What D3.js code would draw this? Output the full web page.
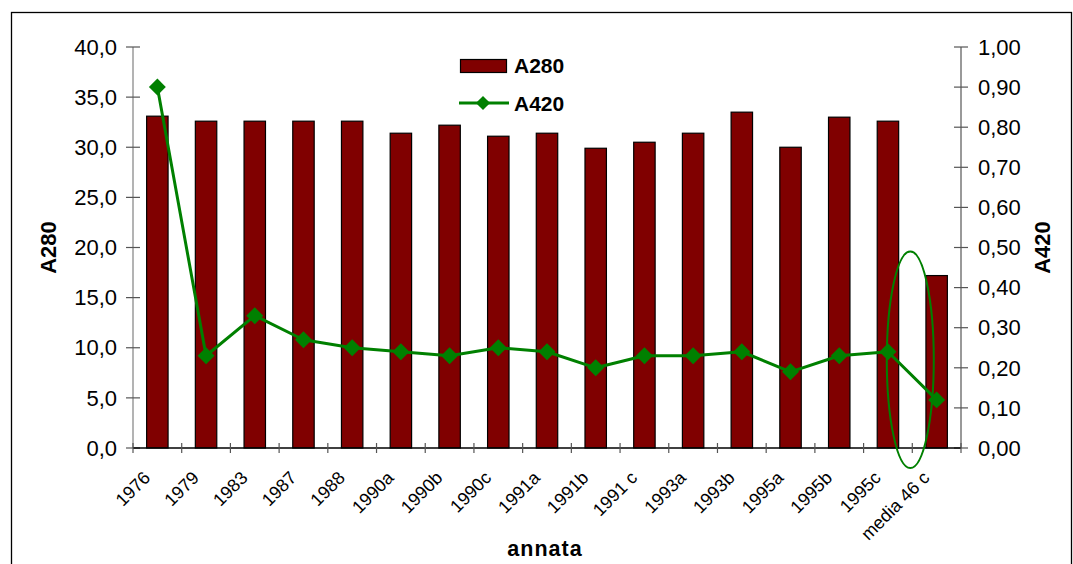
<!DOCTYPE html>
<html>
<head>
<meta charset="utf-8">
<script src="https://cdn.jsdelivr.net/npm/d3@7/dist/d3.min.js"></script>
<style>
  html, body { margin: 0; padding: 0; background: #fff; }
  svg { display: block; font-family: Arial, "Liberation Sans", sans-serif; }
</style>
</head>
<body>
<svg id="chart" width="1073" height="564"></svg>
<script>
// Sample vintages (annata)
const categories = ["1976", "1979", "1983", "1987", "1988", "1990a", "1990b", "1990c",
  "1991a", "1991b", "1991 c", "1993a", "1993b", "1995a", "1995b", "1995c", "media 46 c"];
// Absorbance at 280 nm (left axis, bars)
const a280 = [33.1, 32.6, 32.6, 32.6, 32.6, 31.4, 32.2, 31.1, 31.4, 29.9, 30.5, 31.4, 33.5, 30.0, 33.0, 32.6, 17.2];
// Absorbance at 420 nm (right axis, line)
const a420 = [0.90, 0.23, 0.33, 0.27, 0.25, 0.24, 0.23, 0.25, 0.24, 0.20, 0.23, 0.23, 0.24, 0.19, 0.23, 0.24, 0.12];
const leftTicks = [0, 5, 10, 15, 20, 25, 30, 35, 40];
const rightTicks = [0, 0.1, 0.2, 0.3, 0.4, 0.5, 0.6, 0.7, 0.8, 0.9, 1.0];

const svg = d3.select("#chart");
const plot = { left: 133, right: 961, top: 47, bottom: 448 };

const x = d3.scaleBand().domain(categories).range([plot.left, plot.right]);
const yL = d3.scaleLinear().domain([0, 40]).range([plot.bottom, plot.top]);
const yR = d3.scaleLinear().domain([0, 1]).range([plot.bottom, plot.top]);

const fmt1 = d => d.toFixed(1).replace(".", ",");
const fmt2 = d => d.toFixed(2).replace(".", ",");

// outer frame
svg.append("rect").attr("x", 11.5).attr("y", 12.5).attr("width", 1060).attr("height", 600)
  .attr("fill", "none").attr("stroke", "#000").attr("stroke-width", 1.3);

// bars
const barW = x.bandwidth() * 0.44;
svg.append("g").selectAll("rect").data(categories).join("rect")
  .attr("x", (d) => x(d) + x.bandwidth() / 2 - barW / 2)
  .attr("width", barW)
  .attr("y", (d, i) => yL(a280[i]))
  .attr("height", (d, i) => yL(0) - yL(a280[i]))
  .attr("fill", "#800000").attr("stroke", "#000").attr("stroke-width", 1.2);

// left axis
const gL = svg.append("g");
gL.append("line").attr("x1", plot.left).attr("x2", plot.left).attr("y1", yL(40)).attr("y2", yL(0))
  .attr("stroke", "#808080").attr("stroke-width", 1.2);
gL.selectAll("line.t").data(leftTicks).join("line").attr("class", "t")
  .attr("x1", plot.left - 7).attr("x2", plot.left + 7)
  .attr("y1", d => yL(d)).attr("y2", d => yL(d)).attr("stroke", "#555").attr("stroke-width", 1.2);
gL.selectAll("text").data(leftTicks).join("text")
  .attr("x", 117).attr("y", d => yL(d)).attr("dy", "0.35em").attr("text-anchor", "end")
  .attr("font-size", 22).attr("fill", "#000").text(fmt1);

// right axis
const gR = svg.append("g");
gR.append("line").attr("x1", plot.right).attr("x2", plot.right).attr("y1", yR(1)).attr("y2", yR(0))
  .attr("stroke", "#555").attr("stroke-width", 1.2);
gR.selectAll("line.t").data(rightTicks).join("line").attr("class", "t")
  .attr("x1", plot.right - 7).attr("x2", plot.right + 7)
  .attr("y1", d => yR(d)).attr("y2", d => yR(d)).attr("stroke", "#555").attr("stroke-width", 1.2);
gR.selectAll("text").data(rightTicks).join("text")
  .attr("x", 978).attr("y", d => yR(d)).attr("dy", "0.35em").attr("text-anchor", "start")
  .attr("font-size", 22).attr("fill", "#000").text(fmt2);

// x axis
const gX = svg.append("g");
gX.append("line").attr("x1", plot.left).attr("x2", plot.right).attr("y1", plot.bottom).attr("y2", plot.bottom)
  .attr("stroke", "#000").attr("stroke-width", 1.3);
const xTicks = categories.map(d => x(d)).concat([plot.right]);
gX.selectAll("line.t").data(xTicks).join("line").attr("class", "t")
  .attr("x1", d => d).attr("x2", d => d).attr("y1", plot.bottom - 5).attr("y2", plot.bottom + 5)
  .attr("stroke", "#555").attr("stroke-width", 1.2);
gX.selectAll("text").data(categories).join("text")
  .attr("transform", d => `translate(${x(d) + x.bandwidth() / 2 - 6},${plot.bottom + 31}) rotate(-45)`)
  .attr("text-anchor", "end").attr("font-size", 18).attr("fill", "#000").text(d => d);

// A420 line + diamond markers
const line = d3.line().x((d, i) => x(categories[i]) + x.bandwidth() / 2).y(d => yR(d));
svg.append("path").datum(a420).attr("d", line)
  .attr("fill", "none").attr("stroke", "#008000").attr("stroke-width", 3).attr("stroke-linejoin", "round");
svg.append("g").selectAll("path").data(a420).join("path")
  .attr("transform", (d, i) => `translate(${x(categories[i]) + x.bandwidth() / 2},${yR(d)}) rotate(45)`)
  .attr("d", d3.symbol().type(d3.symbolSquare).size(144))
  .attr("fill", "#008000");

// highlight ellipse around the average column
const ex = x("media 46 c") - 2;
svg.append("ellipse")
  .attr("cx", ex).attr("cy", (yR(0.49) + yR(-0.05)) / 2)
  .attr("rx", 23.5).attr("ry", (yR(-0.05) - yR(0.49)) / 2)
  .attr("fill", "none").attr("stroke", "#008000").attr("stroke-width", 2);

// axis titles
svg.append("text").attr("transform", `translate(56,${(plot.top + plot.bottom) / 2}) rotate(-90)`)
  .attr("text-anchor", "middle").attr("font-size", 22).attr("font-weight", "bold").text("A280");
svg.append("text").attr("transform", `translate(1050,${(plot.top + plot.bottom) / 2}) rotate(-90)`)
  .attr("text-anchor", "middle").attr("font-size", 22).attr("font-weight", "bold").text("A420");
svg.append("text").attr("x", 545).attr("y", 556).attr("text-anchor", "middle")
  .attr("font-size", 21.5).attr("font-weight", "bold").attr("letter-spacing", 1).text("annata");

// legend
const lg = svg.append("g");
lg.append("rect").attr("x", 460.5).attr("y", 59.5).attr("width", 46).attr("height", 13)
  .attr("fill", "#800000").attr("stroke", "#000").attr("stroke-width", 1.2);
lg.append("text").attr("x", 514).attr("y", 73).attr("font-size", 21).attr("font-weight", "bold").text("A280");
lg.append("line").attr("x1", 459).attr("x2", 509).attr("y1", 103).attr("y2", 103)
  .attr("stroke", "#008000").attr("stroke-width", 3);
lg.append("path").attr("transform", "translate(483,103) rotate(45)")
  .attr("d", d3.symbol().type(d3.symbolSquare).size(100)).attr("fill", "#008000");
lg.append("text").attr("x", 514).attr("y", 111).attr("font-size", 21).attr("font-weight", "bold").text("A420");
</script>
</body>
</html>
